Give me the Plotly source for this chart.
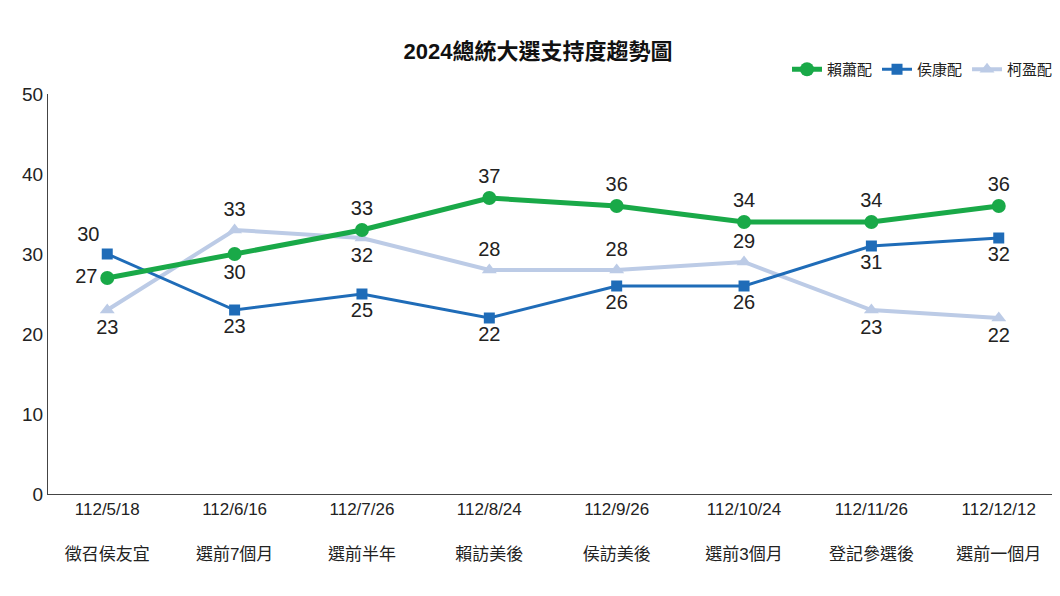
import plotly.graph_objects as go

dates = ["112/5/18", "112/6/16", "112/7/26", "112/8/24", "112/9/26", "112/10/24", "112/11/26", "112/12/12"]
events = ["徵召侯友宜", "選前7個月", "選前半年", "賴訪美後", "侯訪美後", "選前3個月", "登記參選後", "選前一個月"]
lai = [27, 30, 33, 37, 36, 34, 34, 36]
hou = [30, 23, 25, 22, 26, 26, 31, 32]
ko = [23, 33, 32, 28, 28, 29, 23, 22]

cats = [f"{d}<br><br>{e}" for d, e in zip(dates, events)]
font = "Liberation Sans, Noto Sans CJK TC"

fig = go.Figure()
fig.add_trace(go.Scatter(
    x=cats, y=ko, name="柯盈配", mode="lines+markers+text",
    line=dict(color="#bccbe6", width=4), marker=dict(symbol="triangle-up", size=13),
    text=ko, textposition=["bottom center", "top center", "bottom center", "top center",
                           "top center", "top center", "bottom center", "bottom center"],
    textfont=dict(size=20, color="#222")))
fig.add_trace(go.Scatter(
    x=cats, y=hou, name="侯康配", mode="lines+markers+text",
    line=dict(color="#1f6cb8", width=3), marker=dict(symbol="square", size=11),
    text=hou, textposition=["top left"] + ["bottom center"] * 7,
    textfont=dict(size=20, color="#222")))
fig.add_trace(go.Scatter(
    x=cats, y=lai, name="賴蕭配", mode="lines+markers+text",
    line=dict(color="#19a948", width=5), marker=dict(symbol="circle", size=14),
    text=lai, textposition=["middle left", "bottom center"] + ["top center"] * 6,
    textfont=dict(size=20, color="#222")))

fig.update_layout(
    width=1060, height=596, plot_bgcolor="white", paper_bgcolor="white",
    font=dict(family=font, size=17, color="#222"),
    title=dict(text="<b>2024總統大選支持度趨勢圖</b>", x=0.5, y=0.94, xanchor="center",
               font=dict(size=22, color="#111")),
    legend=dict(orientation="h", x=1.0, xanchor="right", y=1.02, yanchor="bottom",
                traceorder="reversed", font=dict(size=15)),
    margin=dict(l=40, r=10, t=86, b=110),
    xaxis=dict(showline=True, linecolor="#444", ticks="", tickfont=dict(size=17)),
    yaxis=dict(range=[0, 50], dtick=10, showgrid=False, showline=True, linecolor="#444",
               zeroline=False, tickfont=dict(size=19)),
)
fig.write_html("out.html")
